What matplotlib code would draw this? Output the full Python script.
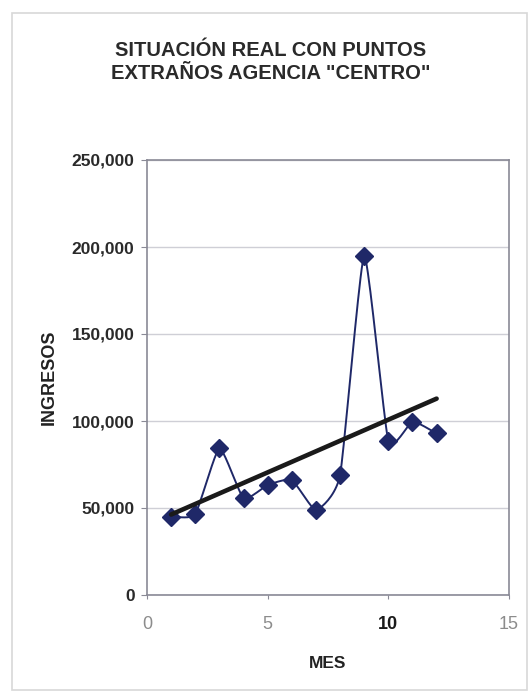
import matplotlib
matplotlib.use("Agg")
import matplotlib.pyplot as plt
import numpy as np
from matplotlib.patches import Rectangle
from matplotlib.ticker import FuncFormatter

plt.rcParams["font.family"] = ["Liberation Sans", "DejaVu Sans"]

# monthly income, agencia "Centro"
mes = np.arange(1, 13)
ingresos = np.array([45000, 46500, 84300, 55600, 63200, 66100,
                     48900, 69000, 194800, 88700, 99600, 92900])

NAVY = "#1f2868"


def smooth_line(x, y, n=20, tension=0.5):
    # cardinal spline through every point (spreadsheet-style smoothed line)
    px = np.concatenate([[2 * x[0] - x[1]], x, [2 * x[-1] - x[-2]]])
    py = np.concatenate([[2 * y[0] - y[1]], y, [2 * y[-1] - y[-2]]])
    t = np.linspace(0, 1, n, endpoint=False)
    h00 = 2 * t ** 3 - 3 * t ** 2 + 1
    h10 = t ** 3 - 2 * t ** 2 + t
    h01 = -2 * t ** 3 + 3 * t ** 2
    h11 = t ** 3 - t ** 2
    xs, ys = [], []
    for i in range(1, len(px) - 2):
        for arr, out in ((px, xs), (py, ys)):
            p0, p1, p2, p3 = arr[i - 1:i + 3]
            m1 = tension * (p2 - p0) / 2
            m2 = tension * (p3 - p1) / 2
            out.extend(h00 * p1 + h10 * m1 + h01 * p2 + h11 * m2)
    xs.append(x[-1])
    ys.append(y[-1])
    return np.array(xs), np.array(ys)


fig = plt.figure(figsize=(5.31, 6.94), dpi=100)
fig.patches.append(Rectangle((12 / 531, 4 / 694), 515 / 531, 677 / 694,
                             transform=fig.transFigure, fill=False,
                             edgecolor="#d8d8d8", linewidth=1.2))

ax = fig.add_axes([147 / 531, 1 - 595 / 694, 362 / 531, 435 / 694])

sx, sy = smooth_line(mes.astype(float), ingresos.astype(float))
ax.plot(sx, sy, color=NAVY, linewidth=1.4, zorder=3)
ax.plot(mes, ingresos, linestyle="none", marker="D", markersize=9,
        color=NAVY, zorder=4)

# linear trend
slope, intercept = np.polyfit(mes, ingresos, 1)
ax.plot([mes[0], mes[-1]], [intercept + slope * mes[0], intercept + slope * mes[-1]],
        color="#1a1a1a", linewidth=3.3, solid_capstyle="round", zorder=5)

ax.set_xlim(0, 15)
ax.set_ylim(0, 250000)
ax.set_xticks([0, 5, 10, 15])
ax.set_yticks(np.arange(0, 250001, 50000))
ax.yaxis.set_major_formatter(FuncFormatter(lambda v, _: f"{v:,.0f}"))
ax.grid(axis="y", color="#cfcfd6", linewidth=1)
ax.set_axisbelow(True)

for s in ax.spines.values():
    s.set_color("#8a8a96")
    s.set_linewidth(1.2)

ax.tick_params(axis="y", length=4, color="#8a8a96", labelsize=12.5,
               labelcolor="#2a2a2a", pad=5)
ax.tick_params(axis="x", length=3, color="#8a8a96", labelsize=13,
               labelcolor="#8c8c8c", pad=12)
for lbl in ax.get_yticklabels():
    lbl.set_fontweight("bold")
for lbl in ax.get_xticklabels():
    if lbl.get_text() == "10":
        lbl.set_fontweight("bold")
        lbl.set_color("#1a1a1a")

ax.set_ylabel("INGRESOS", fontsize=13, fontweight="bold", color="#222222",
              labelpad=10)
ax.set_xlabel("MES", fontsize=12.5, fontweight="bold", color="#222222",
              labelpad=17)

fig.text(0.51, 1 - 62 / 694, 'SITUACIÓN REAL CON PUNTOS\nEXTRAÑOS AGENCIA "CENTRO"',
         ha="center", va="center", fontsize=14.5, fontweight="bold",
         color="#2a2a2a", linespacing=1.3)

fig.savefig("out.png", dpi=100)
